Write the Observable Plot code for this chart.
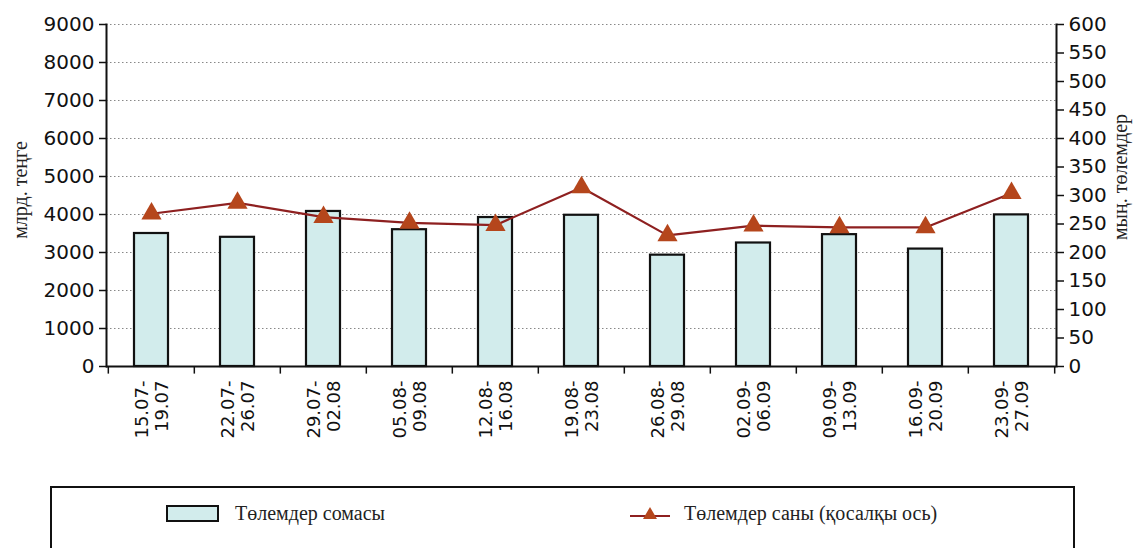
<!DOCTYPE html>
<html><head><meta charset="utf-8">
<script src="https://cdn.jsdelivr.net/npm/d3@7"></script>
<script src="https://cdn.jsdelivr.net/npm/@observablehq/plot@0.6"></script>
<style>
body{margin:0;background:#fff;width:1135px;height:548px;overflow:hidden;position:relative;font-family:"Liberation Serif","DejaVu Serif",serif}
#chart{position:absolute;left:0;top:0}
.ylab{position:absolute;font-family:"Liberation Serif","DejaVu Serif",serif;font-size:20px;color:#222;white-space:nowrap;transform:translate(-50%,-50%) rotate(-90deg)}
#legend{position:absolute;left:50px;top:486px;width:1025px;height:90px;border:2px solid #111;box-sizing:border-box;background:#fff}
.item{position:absolute;top:14px;display:flex;align-items:center;font-family:"Liberation Serif","DejaVu Serif",serif;font-size:20px;color:#222}
</style></head>
<body>
<div id="chart"></div>
<div class="ylab" style="left:20px;top:190px">млрд. теңге</div>
<div class="ylab" style="left:1120px;top:177px">мың. төлемдер</div>
<div id="legend">
  <div class="item" style="left:113px"><svg width="56" height="20"><rect x="2" y="2" width="51" height="15" fill="#d2ecec" stroke="#111" stroke-width="2"/></svg><span style="margin-left:14px">Төлемдер сомасы</span></div>
  <div class="item" style="left:576px"><svg width="44" height="20"><line x1="2" y1="12" x2="42" y2="12" stroke="#8e2020" stroke-width="2.2"/><path d="M22,3 L29,15 L15,15 Z" fill="#b5461c"/></svg><span style="margin-left:12px">Төлемдер саны (қосалқы ось)</span></div>
</div>
<script>
const periods = ["15.07-\n19.07","22.07-\n26.07","29.07-\n02.08","05.08-\n09.08","12.08-\n16.08","19.08-\n23.08","26.08-\n29.08","02.09-\n06.09","09.09-\n13.09","16.09-\n20.09","23.09-\n27.09"];
const amounts = [3500, 3400, 4080, 3600, 3920, 3980, 2930, 3250, 3470, 3090, 3990];
const counts = [268, 287, 262, 252, 248, 314, 230, 247, 244, 244, 304];
const leftTicks = [0,1000,2000,3000,4000,5000,6000,7000,8000,9000];
const rightTicks = [0,50,100,150,200,250,300,350,400,450,500,550,600];

const data = periods.map((p,i)=>({period:p, amount:amounts[i], count:counts[i]}));
const W=1135, H=470, ml=106, mr=79, mt=24, mb=H-366;
const k = 9000/600;
const step = (W-ml-mr)/periods.length;

const plot = Plot.plot({
  width:W, height:H, marginLeft:ml, marginRight:mr, marginTop:mt, marginBottom:mb,
  style:{fontFamily:"DejaVu Sans, sans-serif", fontSize:"20px", color:"#111", background:"white", overflow:"visible"},
  x:{domain:periods, paddingInner:0.6, paddingOuter:0.3, label:null},
  y:{domain:[0,9000], label:null},
  marks:[
    Plot.gridY(leftTicks.filter(v=>v>0), {stroke:"#888", strokeOpacity:1, strokeDasharray:"1.5,2.5"}),
    Plot.barY(data, {x:"period", y:"amount", fill:"#d2ecec", stroke:"#111", strokeWidth:2.2}),
    Plot.line(data, {x:"period", y:d=>d.count*k, stroke:"#8e2020", strokeWidth:2.2}),
    Plot.dot(data, {x:"period", y:d=>d.count*k, symbol:"triangle", r:7.5, fill:"#b5461c"}),
    Plot.ruleY([0], {stroke:"#111", strokeWidth:2}),
    Plot.frame({anchor:"left", stroke:"#111", strokeWidth:2}),
    Plot.frame({anchor:"right", stroke:"#111", strokeWidth:2}),
    Plot.axisY(leftTicks, {anchor:"left", tickFormat:d=>String(d), tickSize:7, tickPadding:5, label:null, strokeWidth:1.5}),
    Plot.axisY(rightTicks.map(v=>v*k), {anchor:"right", tickFormat:v=>String(Math.round(v/k)), tickSize:7, tickPadding:5, label:null, strokeWidth:1.5}),
    Plot.ruleX(periods, {x:d=>d, y1:0, y2:-200, dx:-step/2, stroke:"#111", strokeWidth:1.5}),
    Plot.ruleX(periods.slice(-1), {x:d=>d, y1:0, y2:-200, dx:step/2, stroke:"#111", strokeWidth:1.5}),
    Plot.axisX({tickSize:0, tickPadding:14, tickRotate:-90, label:null, fontSize:18, lineHeight:1.15, fontFamily:"DejaVu Sans"})
  ]
});
document.getElementById("chart").appendChild(plot);
</script>
</body></html>
